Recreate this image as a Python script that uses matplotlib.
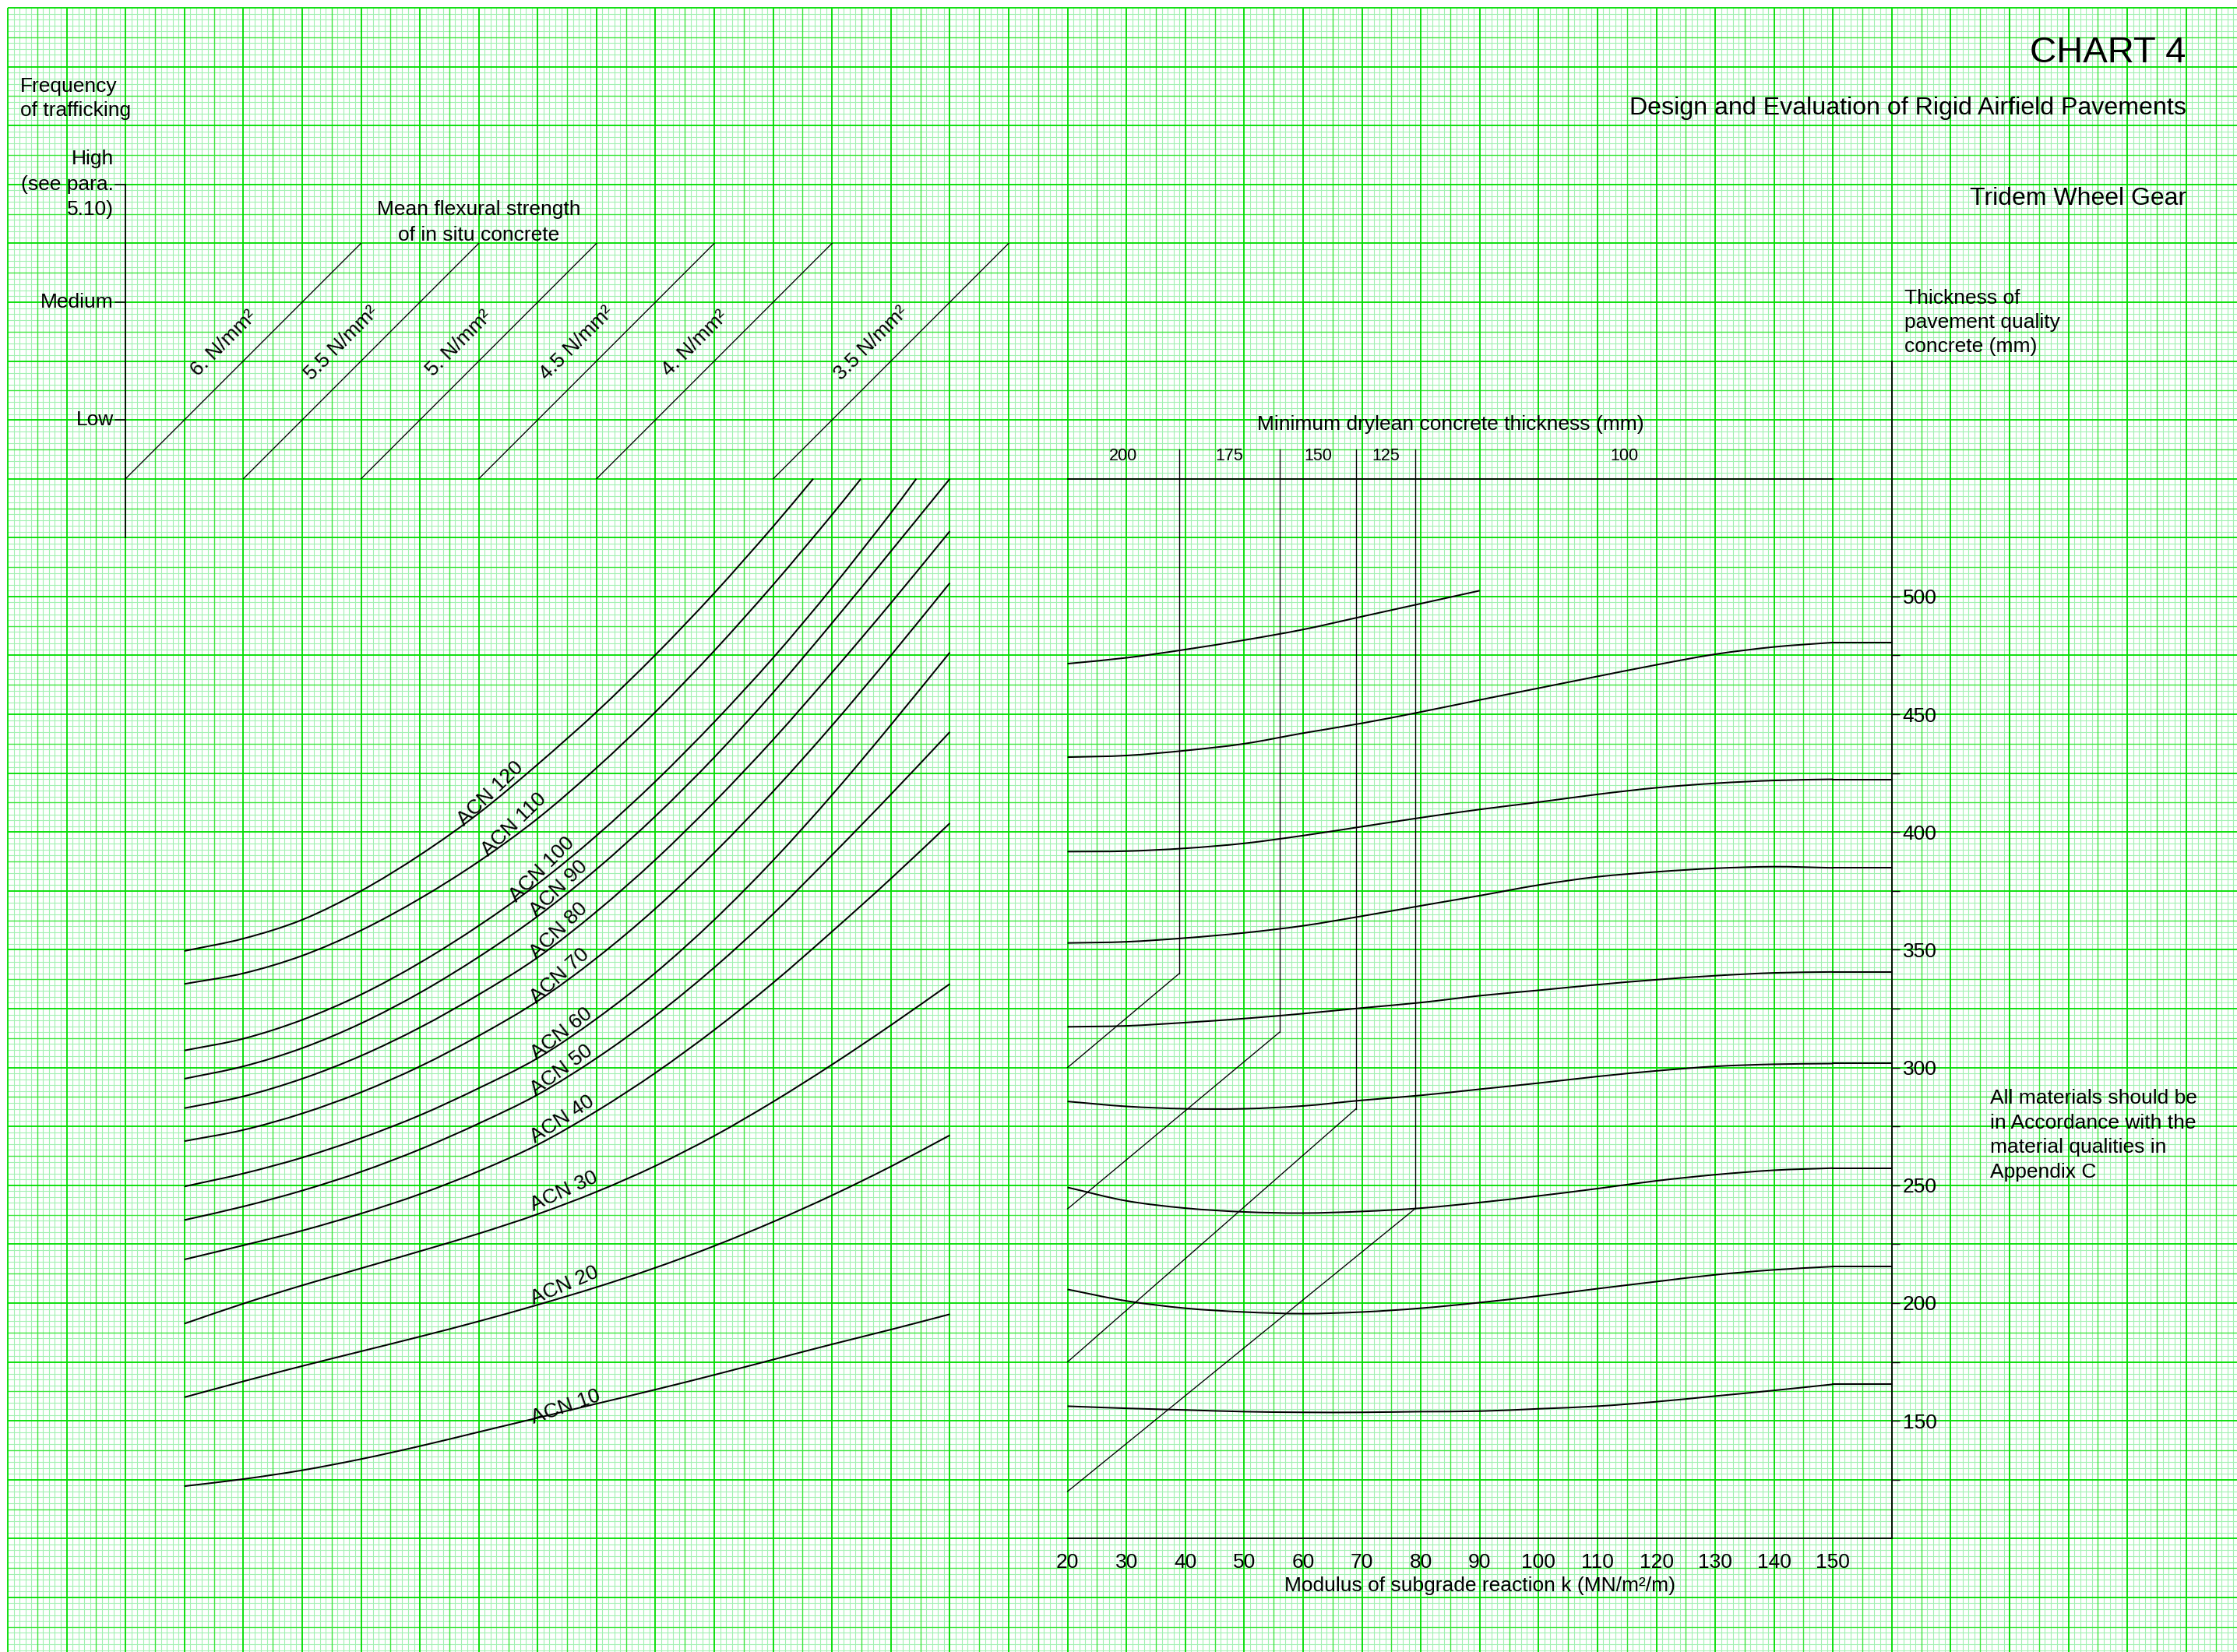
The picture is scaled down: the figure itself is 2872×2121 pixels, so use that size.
import numpy as np
import matplotlib
matplotlib.use("Agg")
import matplotlib.pyplot as plt
from matplotlib.collections import LineCollection
from matplotlib.path import Path
from matplotlib.patches import PathPatch

plt.rcParams['font.family'] = ['Liberation Sans', 'DejaVu Sans']

# ---------------------------------------------------------------- data
# Frequency of trafficking scale (left nomograph), rows in grid squares
freq_labels = ['Medium', 'Low']
freq_rows = [5, 7]
high_row = 3

# Mean flexural strength lines: start column of each 45 degree line
strength_labels = ['6. N/mm²', '5.5 N/mm²', '5. N/mm²', '4.5 N/mm²', '4. N/mm²', '3.5 N/mm²']
strength_start_col = [2, 4, 6, 8, 10, 13]

# ACN curves, row position at each column of the left nomograph
acn_cols = [3, 4, 5, 6, 7, 8, 9, 10, 11, 12, 13, 14, 15, 16]
acn_names = ['ACN 120', 'ACN 110', 'ACN 100', 'ACN 90', 'ACN 80', 'ACN 70',
             'ACN 60', 'ACN 50', 'ACN 40', 'ACN 30', 'ACN 20', 'ACN 10']
acn_120 = [16.02, 15.81, 15.49, 15.00, 14.39, 13.68, 12.85, 11.96, 10.99, 9.94, 8.81]
acn_110 = [16.58, 16.40, 16.10, 15.67, 15.13, 14.50, 13.77, 12.91, 11.96, 10.92, 9.80, 8.61]
acn_100 = [17.71, 17.51, 17.19, 16.76, 16.22, 15.59, 14.88, 14.06, 13.14, 12.13, 11.04, 9.85, 8.58]
acn_90 = [18.19, 17.98, 17.67, 17.25, 16.73, 16.12, 15.43, 14.63, 13.73, 12.73, 11.63, 10.45, 9.23, 8.00]
acn_80 = [18.69, 18.49, 18.19, 17.80, 17.32, 16.76, 16.13, 15.35, 14.47, 13.49, 12.43, 11.29, 10.11, 8.89]
acn_70 = [19.25, 19.06, 18.78, 18.42, 17.98, 17.46, 16.87, 16.14, 15.30, 14.35, 13.31, 12.19, 11.00, 9.77]
acn_60 = [20.02, 19.80, 19.53, 19.20, 18.81, 18.35, 17.84, 17.17, 16.39, 15.49, 14.48, 13.37, 12.18, 10.95]
acn_50 = [20.59, 20.36, 20.09, 19.77, 19.39, 18.95, 18.46, 17.84, 17.12, 16.30, 15.39, 14.39, 13.36, 12.30]
acn_40 = [21.26, 21.02, 20.77, 20.48, 20.15, 19.76, 19.31, 18.74, 18.09, 17.36, 16.56, 15.69, 14.79, 13.85]
acn_30 = [22.35, 22.01, 21.70, 21.41, 21.12, 20.82, 20.49, 20.11, 19.67, 19.16, 18.58, 17.95, 17.28, 16.58]
acn_20 = [23.60, 23.33, 23.07, 22.82, 22.57, 22.31, 22.03, 21.73, 21.40, 21.03, 20.62, 20.17, 19.68, 19.15]
acn_10 = [25.11, 24.99, 24.84, 24.65, 24.43, 24.19, 23.95, 23.71, 23.47, 23.22, 22.96, 22.70, 22.45, 22.19]
# where the three steepest curves meet the top edge (column, row 8)
acn_top_end_col = [13.68, 14.49, 15.43]

# Right nomograph: pavement quality concrete thickness (mm) against k (MN/m2/m)
k_values = [20, 30, 40, 50, 60, 70, 80, 90, 100, 110, 120, 130, 140, 150]
pqc_1 = [471.5, 474.0, 477.5, 481.5, 486.0, 491.5, 497.0, 502.5]
pqc_2 = [431.8, 432.5, 434.6, 437.5, 442.0, 446.2, 451.0, 456.1, 461.1, 466.1, 471.0, 475.5, 478.6, 480.5]
pqc_3 = [391.7, 391.9, 393.1, 395.2, 398.5, 402.3, 406.1, 409.6, 412.7, 416.0, 418.8, 420.7, 421.9, 422.4]
pqc_4 = [352.9, 353.4, 355.0, 357.2, 360.2, 364.3, 368.7, 373.0, 377.5, 381.0, 383.1, 384.6, 385.3, 384.8]
pqc_5 = [317.3, 317.7, 319.1, 320.8, 322.9, 325.3, 327.6, 330.5, 332.8, 335.2, 337.3, 339.0, 340.2, 340.6]
pqc_6 = [285.6, 283.5, 282.5, 282.5, 283.7, 286.1, 288.2, 290.8, 293.4, 296.2, 298.6, 300.5, 301.4, 301.7]
pqc_7 = [249.1, 243.4, 240.3, 238.7, 238.2, 238.9, 240.3, 242.7, 245.5, 248.6, 251.9, 254.5, 256.4, 257.3]
pqc_8 = [205.8, 200.9, 197.8, 196.2, 195.5, 196.2, 197.8, 200.2, 203.0, 206.1, 209.1, 212.0, 214.1, 215.5]
pqc_9 = [156.2, 155.3, 154.6, 153.9, 153.6, 153.6, 153.9, 154.1, 155.1, 156.2, 158.1, 160.5, 162.9, 165.5]
k_axis_end = 160

# Minimum drylean concrete thickness bands
dlc_labels = ['200', '175', '150', '125', '100']
dlc_bounds_k = [20, 39, 56, 69, 79, 150]
dlc_link_start_t = [300, 240, 175, 120]   # at k = 20
dlc_link_end_t = [340, 315, 282.5, 240]   # at the band boundary

t_ticks = list(range(125, 501, 25))
t_labelled = list(range(150, 501, 50))
k_ticks = list(range(20, 151, 10))


def smooth_path(xs, ys):
    """Cubic path passing through every given point (chord-length tangents)."""
    p = np.column_stack([xs, ys]).astype(float)
    n = len(p)
    d = np.hypot(*np.diff(p, axis=0).T)
    m = np.zeros_like(p)
    m[0] = (p[1] - p[0]) / d[0]
    m[-1] = (p[-1] - p[-2]) / d[-1]
    for i in range(1, n - 1):
        m[i] = (p[i + 1] - p[i - 1]) / (d[i - 1] + d[i])
    verts, codes = [p[0]], [Path.MOVETO]
    for i in range(n - 1):
        verts += [p[i] + m[i] * d[i] / 3, p[i + 1] - m[i + 1] * d[i] / 3, p[i + 1]]
        codes += [Path.CURVE4] * 3
    return Path(verts, codes)


# ---------------------------------------------------------------- page
W, H, DPI = 2872, 2121, 100
ORIGIN, STEP = 10.0, 75.59           # pixels to first grid line, pixels per square

fig = plt.figure(figsize=(W / DPI, H / DPI), dpi=DPI, facecolor='white')
ax = fig.add_axes([0, 0, 1, 1])
ax.set_xlim(-ORIGIN / STEP, (W - ORIGIN) / STEP)
ax.set_ylim((H - ORIGIN) / STEP, -ORIGIN / STEP)
ax.axis('off')

# graph paper: fine rulings, half-square and full-square rulings
umax = (W - ORIGIN) / STEP + 0.2
vmax = (H - ORIGIN) / STEP + 0.2
minor_seg, half_seg, major_seg = [], [], []
for i in range(int(umax * 10) + 1):
    u = i / 10
    seg = [(u, 0), (u, vmax)]
    (major_seg if i % 10 == 0 else half_seg if i % 10 == 5 else minor_seg).append(seg)
for i in range(int(vmax * 10) + 1):
    v = i / 10
    seg = [(0, v), (umax, v)]
    (major_seg if i % 10 == 0 else half_seg if i % 10 == 5 else minor_seg).append(seg)
ax.add_collection(LineCollection(minor_seg, colors='#a2f1b2', linewidths=0.8, zorder=0))
ax.add_collection(LineCollection(half_seg, colors='#3ee63e', linewidths=1.0, zorder=0.1))
ax.add_collection(LineCollection(major_seg, colors='#06de06', linewidths=1.35, zorder=0.2))

FS = 19
txt = dict(color='black', fontsize=FS, zorder=5)

# headings
ax.text(37.0, 0.77, 'CHART 4', ha='right', va='center', fontsize=34, zorder=5)
ax.text(37.0, 1.71, 'Design and Evaluation of Rigid Airfield Pavements',
        ha='right', va='center', fontsize=23.1, zorder=5)
ax.text(37.0, 3.24, 'Tridem Wheel Gear', ha='right', va='center', fontsize=23, zorder=5)

# frequency of trafficking scale
ax.text(0.21, 1.34, 'Frequency', ha='left', va='center', **txt)
ax.text(0.21, 1.74, 'of trafficking', ha='left', va='center', **txt)
ax.plot([2, 2], [high_row, 9], color='black', lw=1.3, zorder=4)
for r in [high_row] + freq_rows:
    ax.plot([1.83, 2], [r, r], color='black', lw=1.1, zorder=4)
ax.text(1.80, high_row - 0.44, 'High', ha='right', va='center', **txt)
ax.text(1.80, high_row, '(see para.', ha='right', va='center', **txt)
ax.text(1.80, high_row + 0.42, '5.10)', ha='right', va='center', **txt)
for lab, r in zip(freq_labels, freq_rows):
    ax.text(1.80, r, lab, ha='right', va='center', **txt)

# flexural strength lines
ax.text(8.0, 3.43, 'Mean flexural strength', ha='center', va='center', **txt)
ax.text(8.0, 3.86, 'of in situ concrete', ha='center', va='center', **txt)
for lab, c0 in zip(strength_labels, strength_start_col):
    ax.plot([c0, c0 + 4], [8, 4], color='black', lw=0.95, zorder=4)
    ax.text(c0 + 1.67, 5.70, lab, rotation=45, rotation_mode='anchor',
            ha='center', va='center', **txt)

# ACN curves
acn_rows = [acn_120, acn_110, acn_100, acn_90, acn_80, acn_70,
            acn_60, acn_50, acn_40, acn_30, acn_20, acn_10]
for i, rows in enumerate(acn_rows):
    cols = list(acn_cols[:len(rows)])
    rows = list(rows)
    if i < len(acn_top_end_col):
        cols.append(acn_top_end_col[i])
        rows.append(8.0)
    ax.add_patch(PathPatch(smooth_path(cols, rows), fill=False, ec='black', lw=1.45,
                           zorder=4, capstyle='butt'))

acn_label_pos = [(8.20, 13.34, 44), (8.60, 13.87, 44), (9.07, 14.63, 45), (9.36, 14.96, 44),
                 (9.36, 15.67, 44), (9.38, 16.44, 42), (9.40, 17.42, 38), (9.41, 18.04, 36.5),
                 (9.42, 18.88, 33), (9.45, 20.10, 24.5), (9.45, 21.70, 23), (9.47, 23.76, 19)]
for name, (cu, cv, ang) in zip(acn_names, acn_label_pos):
    ax.text(cu, cv, name, rotation=ang, rotation_mode='anchor', ha='center', va='center', **txt)

# note on materials
for j, line in enumerate(['All materials should be', 'in Accordance with the',
                          'material qualities in', 'Appendix C']):
    ax.text(33.67, 18.52 + j * 0.418, line, ha='left', va='center', **txt)

# ---------------------------------------------------------------- right nomograph
def fx(u):
    return (ORIGIN + u * STEP) / W


def fy(v):
    return 1 - (ORIGIN + v * STEP) / H


axr = fig.add_axes([fx(18), fy(26), fx(32) - fx(18), fy(6) - fy(26)])
axr.set_xlim(20, 160)
axr.set_ylim(100, 600)
axr.patch.set_alpha(0)
for side in ['left', 'top']:
    axr.spines[side].set_visible(False)
for side in ['right', 'bottom']:
    axr.spines[side].set_linewidth(1.3)
axr.yaxis.tick_right()
axr.set_yticks(t_ticks)
axr.set_yticklabels([str(t) if t in t_labelled else '' for t in t_ticks])
axr.set_xticks(k_ticks)
axr.set_xticklabels([str(k) for k in k_ticks])
axr.tick_params(axis='y', direction='out', length=7, width=1.0, pad=3, labelsize=FS)
axr.tick_params(axis='x', length=0, pad=13.5, labelsize=FS)
axr.set_xlabel('Modulus of subgrade reaction k (MN/m²/m)', fontsize=FS, labelpad=4)

ax.text(32.21, 4.93, 'Thickness of', ha='left', va='center', **txt)
ax.text(32.21, 5.34, 'pavement quality', ha='left', va='center', **txt)
ax.text(32.21, 5.76, 'concrete (mm)', ha='left', va='center', **txt)

for t in [pqc_1, pqc_2, pqc_3, pqc_4, pqc_5, pqc_6, pqc_7, pqc_8, pqc_9]:
    ks = k_values[:len(t)]
    axr.add_patch(PathPatch(smooth_path(ks, t), fill=False, ec='black', lw=1.45,
                            clip_on=False, zorder=4))
    if len(t) == len(k_values):
        axr.plot([k_values[-1], k_axis_end], [t[-1], t[-1]], color='black', lw=1.45,
                 clip_on=False, zorder=4)

# drylean bands
t_band_line = 550
t_band_top = 562.5
axr.plot([dlc_bounds_k[0], dlc_bounds_k[-1]], [t_band_line, t_band_line],
         color='black', lw=1.3, clip_on=False)
for k, t0, t1 in zip(dlc_bounds_k[1:5], dlc_link_start_t, dlc_link_end_t):
    axr.plot([k, k], [t_band_top, t1], color='black', lw=0.95, clip_on=False)
    axr.plot([20, k], [t0, t1], color='black', lw=0.95, clip_on=False)
for lab, a, b in zip(dlc_labels, dlc_bounds_k[:-1], dlc_bounds_k[1:]):
    axr.text((a + b) / 2, 559.5, lab, ha='center', va='center', fontsize=15.5)
axr.text(85, 573, 'Minimum drylean concrete thickness (mm)', ha='center', va='center',
         fontsize=FS)

fig.savefig('out.png', dpi=DPI, facecolor='white')
